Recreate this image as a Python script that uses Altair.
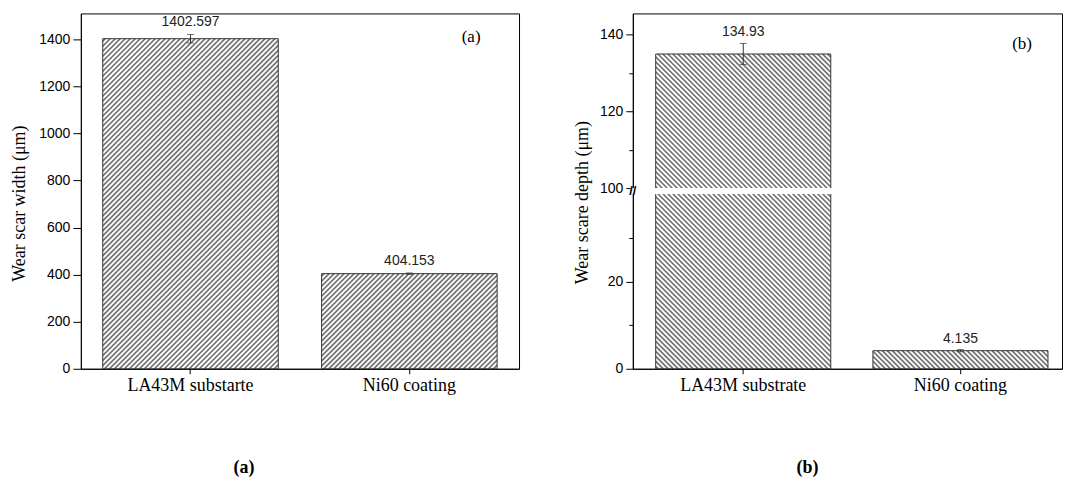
import altair as alt
import pandas as pd

# ---------------- data ----------------
samples_a = ["LA43M substarte", "Ni60 coating"]
width_um = [1402.597, 404.153]
width_err = [18.0, 3.0]
labels_a = ["1402.597", "404.153"]

samples_b = ["LA43M substrate", "Ni60 coating"]
depth_um = [134.93, 4.135]
depth_err = [2.75, 0.25]
labels_b = ["134.93", "4.135"]

ticks_a = list(range(0, 1501, 100))
ticks_b = [0, 10, 20, 30, 100, 110, 120, 130, 140]
break_b = [40, 100]          # axis break: lower segment ends / upper segment starts

# ---------------- geometry / style ----------------
WA, HA = 439, 356
WB, HB = 430, 356
YMAX_A = 1510
YMAX_B = 145.5
P_IN_A, P_OUT_A = 0.198, 0.1
P_IN_B, P_OUT_B, ALIGN_B = 0.194, 0.085, 0.62
GAP_PX = 6
LOW_PX = 175            # pixel height of the lower segment 0..40
RANGE_B = [HB, HB - LOW_PX, HB - LOW_PX - GAP_PX, 0]
DOMAIN_B = [0, break_b[0], break_b[1], YMAX_B]

SANS = "Liberation Sans"
SERIF = "Liberation Serif"


def hatch(w, h, forward=True, period=5 / 2 ** 0.5, lw=1.6, color="#6e6e6e"):
    """Diagonal 45-degree hatch as a striped linear gradient (bbox units), soft edges."""
    k = (w + h) / (w * w + h * h)
    dx, dy = w * k, h * k
    diag = (w + h) / 2 ** 0.5
    n = int(diag / period) + 1
    pts = [(0.0, "white")]
    last = 0.0
    for i in range(n):
        d = (i + 0.5) * period
        for p, col in ((d - lw / 2 - 0.5, "white"), (d - lw / 2 + 0.5, color),
                       (d + lw / 2 - 0.5, color), (d + lw / 2 + 0.5, "white")):
            o = min(max(p / diag, last), 1.0)
            pts.append((o, col))
            last = o
    pts.append((1.0, "white"))
    stops = [{"offset": round(o, 6), "color": c} for o, c in pts]
    if forward:
        x1, y1, x2, y2 = 0, 0, dx, dy
    else:
        x1, y1, x2, y2 = 0, 1, dx, 1 - dy
    return {"gradient": "linear", "x1": x1, "y1": y1, "x2": x2, "y2": y2, "stops": stops}


def ypix_b(v):
    # piecewise mapping (pixel distance from bottom)
    if v <= break_b[0]:
        return v / break_b[0] * LOW_PX
    return HB - (YMAX_B - v) / (YMAX_B - break_b[1]) * (HB - LOW_PX - GAP_PX)


df_a = pd.DataFrame({"sample": samples_a, "value": width_um, "err": width_err, "label": labels_a})
df_a["lo"] = df_a["value"] - df_a["err"]
df_a["hi"] = df_a["value"] + df_a["err"]

df_b = pd.DataFrame({"sample": samples_b, "value": depth_um, "err": depth_err, "label": labels_b})
df_b["lo"] = df_b["value"] - df_b["err"]
df_b["hi"] = df_b["value"] + df_b["err"]

# ---------------- panel (a) ----------------
band_a = WA / (2 - P_IN_A + 2 * P_OUT_A) * (1 - P_IN_A)
x_a = alt.X(
    "sample:N", sort=samples_a,
    scale=alt.Scale(paddingInner=P_IN_A, paddingOuter=P_OUT_A),
    axis=alt.Axis(title=None, labelAngle=0, labelFont=SERIF, labelFontSize=18,
                  tickSize=5, labelPadding=3, domainColor="black", tickColor="black",
                  labelColor="black"),
)
y_a = alt.Y(
    "value:Q", scale=alt.Scale(domain=[0, YMAX_A], nice=False, zero=True),
    axis=alt.Axis(title="Wear scar width (μm)", values=ticks_a, format="d",
                  labelExpr="datum.value % 200 == 0 ? datum.label : ''",
                  tickSize={"condition": {"test": "datum.value % 200 == 0", "value": 8}, "value": 4},
                  labelFont=SANS, labelFontSize=14, labelPadding=3, labelColor="black",
                  titleFont=SERIF, titleFontSize=18, titleFontWeight="normal",
                  titlePadding=10, titleColor="black", titleY=190, grid=False,
                  domainColor="black", tickColor="black"),
)

base_a = alt.Chart(df_a)
bars_a = []
for s, v in zip(samples_a, width_um):
    h = v / YMAX_A * HA
    bars_a.append(
        base_a.transform_filter(alt.datum.sample == s)
        .mark_bar(fill=hatch(band_a, h, forward=True), stroke="#333333", strokeWidth=1)
        .encode(x=x_a, y=y_a)
    )
err_a = base_a.mark_rule(color="#333333", strokeWidth=1).encode(x=x_a, y="lo:Q", y2="hi:Q")
cap_lo_a = base_a.mark_tick(color="#333333", size=7, thickness=1).encode(x=x_a, y="lo:Q")
cap_hi_a = base_a.mark_tick(color="#333333", size=7, thickness=1).encode(x=x_a, y="hi:Q")
txt_a = base_a.mark_text(font=SANS, fontSize=14, baseline="bottom", dy=-5, color="#222222").encode(
    x=x_a, y="hi:Q", text="label:N")
tag_a = alt.Chart(pd.DataFrame({"t": ["(a)"]})).mark_text(
    font=SERIF, fontSize=17, color="black").encode(x=alt.value(391), y=alt.value(24), text="t:N")

panel_a = alt.layer(*bars_a, err_a, cap_lo_a, cap_hi_a, txt_a, tag_a).properties(
    width=WA, height=HA,
    title=alt.TitleParams("(a)", orient="bottom", anchor="middle", dx=-56, offset=64,
                          font=SERIF, fontSize=18, fontWeight="bold", color="black"),
)

# ---------------- panel (b) ----------------
band_b = WB / (2 - P_IN_B + 2 * P_OUT_B) * (1 - P_IN_B)
x_b = alt.X(
    "sample:N", sort=samples_b,
    scale=alt.Scale(paddingInner=P_IN_B, paddingOuter=P_OUT_B, align=ALIGN_B),
    axis=alt.Axis(title=None, labelAngle=0, labelFont=SERIF, labelFontSize=18,
                  tickSize=5, labelPadding=3, domainColor="black", tickColor="black",
                  labelColor="black"),
)
y_b = alt.Y(
    "value:Q", scale=alt.Scale(domain=DOMAIN_B, range=RANGE_B, nice=False, zero=False),
    axis=alt.Axis(title="Wear scare depth (μm)", values=ticks_b,
                  labelExpr="datum.value % 20 == 0 ? datum.label : ''",
                  tickSize={"condition": {"test": "datum.value % 20 == 0", "value": 7}, "value": 4},
                  labelFont=SANS, labelFontSize=14, labelPadding=3, labelColor="black",
                  titleFont=SERIF, titleFontSize=18, titleFontWeight="normal",
                  titlePadding=8, titleColor="black", titleY=189, grid=False, zindex=0,
                  domainColor="black", tickColor="black"),
)

base_b = alt.Chart(df_b)
bars_b = []
for s, v in zip(samples_b, depth_um):
    h = ypix_b(v)
    bars_b.append(
        base_b.transform_filter(alt.datum.sample == s)
        .mark_bar(fill=hatch(band_b, h, forward=False), stroke="#333333", strokeWidth=1)
        .encode(x=x_b, y=y_b)
    )

df_gap = pd.DataFrame({"sample": [samples_b[0]], "lo": [break_b[0]], "hi": [break_b[1]],
                       "mid": [70], "s": ["//"]})
gap_bar = alt.Chart(df_gap).mark_bar(fill="white", width=band_b + 4).encode(
    x=x_b, y=alt.Y("lo:Q"), y2="hi:Q")
gap_axis = alt.Chart(df_gap).mark_rect(fill="white").encode(
    x=alt.value(-2), x2=alt.value(3), y="lo:Q", y2="hi:Q")
gap_sym = alt.Chart(df_gap).mark_text(font=SANS, fontSize=13, fontWeight="bold", color="black").encode(
    x=alt.value(0), y="mid:Q", text="s:N")

err_b = base_b.mark_rule(color="#333333", strokeWidth=1).encode(x=x_b, y="lo:Q", y2="hi:Q")
cap_lo_b = base_b.mark_tick(color="#333333", size=7, thickness=1).encode(x=x_b, y="lo:Q")
cap_hi_b = base_b.mark_tick(color="#333333", size=7, thickness=1).encode(x=x_b, y="hi:Q")
txt_b = base_b.mark_text(font=SANS, fontSize=14, baseline="bottom", dy=-4, color="#222222").encode(
    x=x_b, y="hi:Q", text="label:N")
tag_b = alt.Chart(pd.DataFrame({"t": ["(b)"]})).mark_text(
    font=SERIF, fontSize=17, color="black").encode(x=alt.value(390), y=alt.value(31), text="t:N")

panel_b = alt.layer(*bars_b, gap_bar, gap_axis, gap_sym, err_b, cap_lo_b, cap_hi_b, txt_b, tag_b).properties(
    width=WB, height=HB,
    title=alt.TitleParams("(b)", orient="bottom", anchor="middle", dx=-40, offset=64,
                          font=SERIF, fontSize=18, fontWeight="bold", color="black"),
)

chart = (
    alt.hconcat(panel_a, panel_b, spacing=53)
    .properties(padding={"left": 10, "top": 12, "right": 4, "bottom": 2}, background="white")
    .configure_view(stroke="black", strokeWidth=1)
)

chart.save("out.html", embed_options={"renderer": "svg", "actions": False})
